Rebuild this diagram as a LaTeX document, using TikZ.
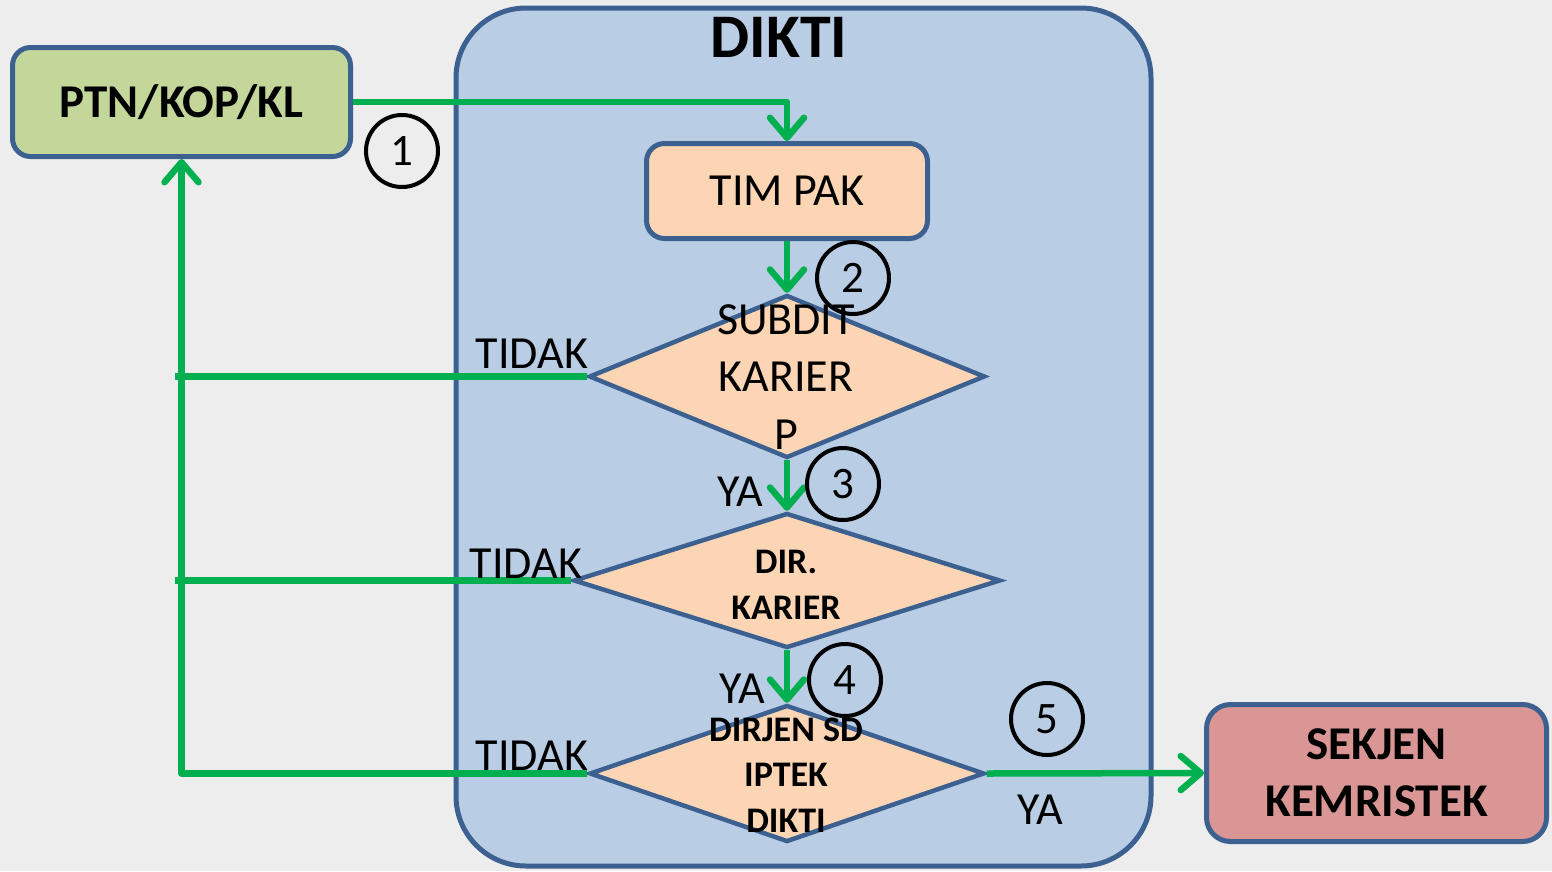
\documentclass[tikz,border=0pt]{standalone}
\usepackage{fontspec}
\setmainfont{Carlito}
\usetikzlibrary{shapes.geometric,arrows.meta}

\definecolor{bggray}{HTML}{EDEDED}
\definecolor{diktiblue}{HTML}{B9CDE5}
\definecolor{edgeblue}{HTML}{3C6090}
\definecolor{ptngreen}{HTML}{C4D79B}
\definecolor{peach}{HTML}{FCD5B5}
\definecolor{sekjenred}{HTML}{D99694}
\definecolor{flowgreen}{HTML}{00B050}

\tikzset{
  unitbox/.style={draw=edgeblue, line width=5pt, rounded corners=18pt, inner sep=0pt},
  decision/.style={diamond, draw=edgeblue, fill=peach, line width=4.5pt, inner sep=0pt},
  flow/.style={draw=flowgreen, line width=6.5pt, line join=round},
  flowarrow/.style={flow, -{Straight Barb[length=20pt,width=34pt,round]}},
  stepnum/.style={circle, draw=black, line width=4pt, minimum size=72pt, inner sep=0pt,
    font=\fontsize{45}{50}\selectfont},
}

\begin{document}
\begin{tikzpicture}[x=1pt, y=-1pt]
  % Canvas
  \fill[bggray] (0,0) rectangle (1552,871);
  \useasboundingbox (0,0) rectangle (1552,871);
  % DIKTI container
  \node[draw=edgeblue, fill=diktiblue, line width=5pt, rounded corners=70pt,
    minimum width=695pt, minimum height=858pt] (dikti) at (803.5,437) {};
  \node[font=\fontsize{62}{70}\selectfont\bfseries] (diktilabel) at (779,37) {DIKTI};
  % Boxes
  \node[unitbox, fill=ptngreen, minimum width=338pt, minimum height=109pt,
    font=\fontsize{47}{55}\selectfont\bfseries] (ptn) at (181.5,102) {PTN/KOP/KL};
  \node[unitbox, fill=peach, minimum width=281pt, minimum height=95pt,
    font=\fontsize{46}{55}\selectfont] (timpak) at (787,191) {TIM PAK};
  \node[unitbox, fill=sekjenred, minimum width=340pt, minimum height=137pt, rounded corners=24pt,
    align=center, font=\fontsize{47}{57}\selectfont\bfseries] (sekjen) at (1376.5,773) {SEKJEN\\KEMRISTEK};
  % Decisions
  \node[decision, minimum width=396pt, minimum height=163pt] (subdit) at (787,376.5) {};
  \node[decision, minimum width=427pt, minimum height=135pt] (dir) at (787,580.5) {};
  \node[decision, minimum width=395pt, minimum height=137pt] (dirjen) at (787,773.5) {};
  \node[align=center, font=\fontsize{46}{57.5}\selectfont] (subdittxt) at (786,377) {SUBDIT\\KARIER\\P};
  \node[align=center, font=\fontsize{36}{46}\selectfont\bfseries] (dirtxt) at (786,585) {DIR.\\KARIER};
  \node[align=center, font=\fontsize{36}{45.5}\selectfont\bfseries] (dirjentxt) at (786,775) {DIRJEN SD\\IPTEK\\DIKTI};
  % Flow
  \coordinate (stub) at (175,0);
  \draw[flowarrow] (ptn.east) -| (timpak.north);
  \draw[flowarrow] (timpak.south) -- (subdit.north);
  \draw[flowarrow] (subdit.south) -- (dir.north);
  \draw[flowarrow] (dir.south) -- (dirjen.north);
  \draw[flowarrow] (dirjen.east) -- (sekjen.west);
  \draw[flow] (subdit.west) -- (subdit.west -| stub);
  \draw[flow] (dir.west) -- (dir.west -| stub);
  \draw[flowarrow] (dirjen.west) -| (ptn.south);
  % Labels
  \begin{scope}[font=\fontsize{46}{55}\selectfont]
    \node (tidak1) at (532,354) {TIDAK};
    \node (tidak2) at (526,564) {TIDAK};
    \node (tidak3) at (532,756) {TIDAK};
    \node (ya1) at (740,492) {YA};
    \node (ya2) at (742,689) {YA};
    \node (ya3) at (1040,810) {YA};
  \end{scope}
  % Step numbers
  \node[stepnum] (n1) at (402,151) {1};
  \node[stepnum] (n2) at (853,278) {2};
  \node[stepnum] (n3) at (843,484) {3};
  \node[stepnum] (n4) at (845,680) {4};
  \node[stepnum] (n5) at (1047,719) {5};
\end{tikzpicture}
\end{document}
